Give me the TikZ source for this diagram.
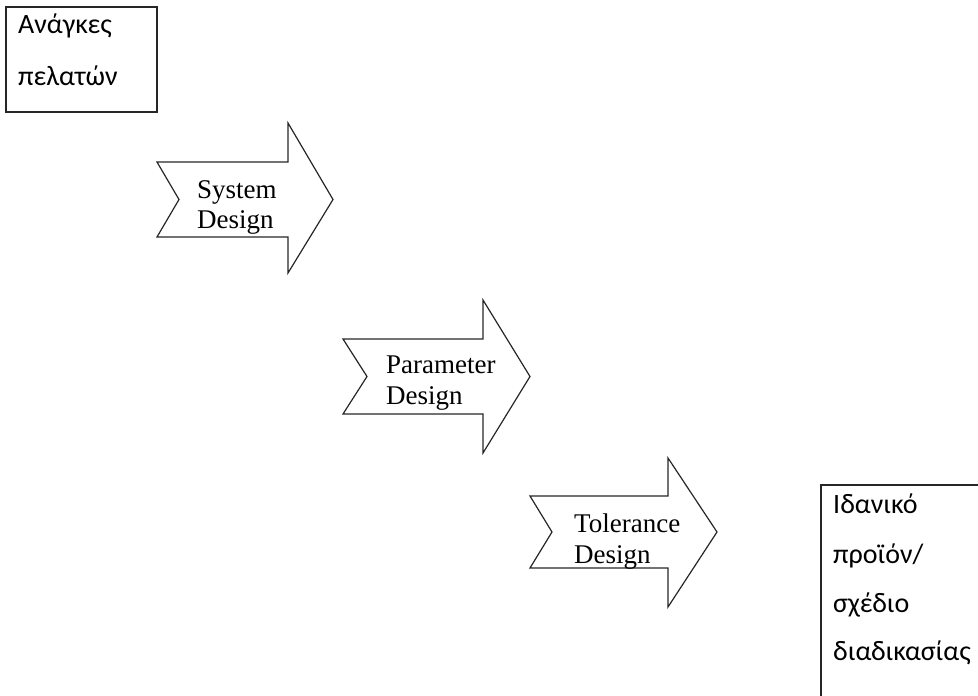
\documentclass[tikz,border=0pt]{standalone}
\usepackage{fontspec}
\setmainfont{Liberation Serif}
\newfontfamily\greekfont{Carlito}
\begin{document}
\begin{tikzpicture}[x=1pt,y=-1pt,
  outline/.style={draw=black!85,line width=1.2pt,line join=miter},
  stagetext/.style={font=\fontsize{27}{31}\selectfont,anchor=base west,inner sep=0pt,align=left},
  greektext/.style={font=\greekfont\fontsize{28}{32}\selectfont,anchor=base west,inner sep=0pt}]
  \useasboundingbox (0,0) rectangle (978,696);
  \clip (0,0) rectangle (978,696);

  % input box
  \draw[outline] (6,7) rectangle (157,112);
  \node[greektext] (needs1) at (18,34) {Ανάγκες};
  \node[greektext] (needs2) at (18,85) {πελατών};

  % stage 1
  \draw[outline] (157,162) -- (288,162) -- (288,123) -- (333,199.5) -- (288,273)
    -- (288,237) -- (157,237) -- (179,199.5) -- cycle;
  \node[stagetext] (sys1) at (197,198) {System};
  \node[stagetext] (sys2) at (197,228) {Design};

  % stage 2
  \draw[outline] (343,339) -- (483,339) -- (483,300) -- (530,376.5) -- (483,453)
    -- (483,414) -- (343,414) -- (367,376.5) -- cycle;
  \node[stagetext] (par1) at (386,373) {Parameter};
  \node[stagetext] (par2) at (386,404) {Design};

  % stage 3
  \draw[outline] (530,496) -- (668,496) -- (668,458) -- (717,532) -- (668,607)
    -- (668,568) -- (530,568) -- (552,532) -- cycle;
  \node[stagetext] (tol1) at (574,532) {Tolerance};
  \node[stagetext] (tol2) at (574,563) {Design};

  % output box, running past the page edge
  \draw[outline] (821,485) rectangle (1000,720);
  \node[greektext] (out1) at (833,513) {Ιδανικό};
  \node[greektext] (out2) at (833,563) {προϊόν/};
  \node[greektext] (out3) at (833,612) {σχέδιο};
  \node[greektext] (out4) at (833,660) {διαδικασίας};
\end{tikzpicture}
\end{document}
